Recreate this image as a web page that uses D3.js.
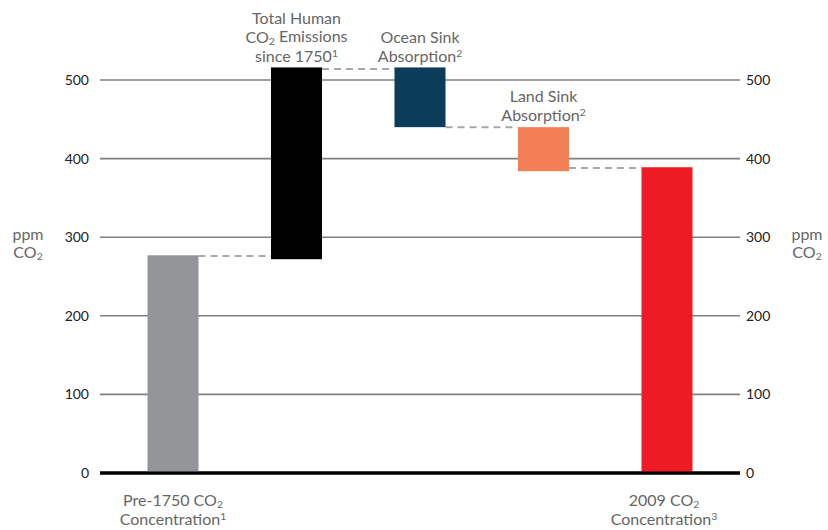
<!DOCTYPE html>
<html>
<head>
<meta charset="utf-8">
<script src="https://cdn.jsdelivr.net/npm/d3@7"></script>
<style>
  body { margin: 0; background: #fff; }
  text { font-family: Lato, "Open Sans", sans-serif; }
</style>
</head>
<body>
<div id="chart"></div>
<script>
// waterfall of CO2 (ppm)
var categories = ["pre", "emissions", "ocean", "land", "y2009"];
var barLow = [0, 272, 440, 384, 0];
var barHigh = [277, 516, 516, 440, 389];
var barColors = ["#939598", "#000000", "#0b3d5b", "#f37f57", "#ed1c24"];
var connectorLevels = [276, 514, 440, 388];
var yTicks = [0, 100, 200, 300, 400, 500];

var width = 828;
var height = 530;

var svg = d3.select('#chart')
    .append('svg')
    .attr('width', width)
    .attr('height', height);

var yscale = d3.scaleLinear()
    .domain([0, 500])
    .range([473, 80]);

var xscale = d3.scalePoint()
    .domain(categories)
    .range([173, 667]);

var barWidth = 51;

// grid lines
svg.selectAll('.grid')
    .data(yTicks)
    .enter()
    .append('line')
    .attr('x1', 100)
    .attr('x2', 740)
    .attr('y1', d => yscale(d))
    .attr('y2', d => yscale(d))
    .attr('stroke', d => d === 0 ? '#000' : '#808080')
    .attr('stroke-width', d => d === 0 ? 3 : 1.6);

// tick labels left + right
svg.selectAll('.tickL')
    .data(yTicks)
    .enter()
    .append('text')
    .attr('x', 89)
    .attr('y', d => yscale(d))
    .attr('dy', '0.35em')
    .attr('text-anchor', 'end')
    .style('font-size', '14px')
    .attr('fill', '#222')
    .text(d => d);

svg.selectAll('.tickR')
    .data(yTicks)
    .enter()
    .append('text')
    .attr('x', 746)
    .attr('y', d => yscale(d))
    .attr('dy', '0.35em')
    .style('font-size', '14px')
    .attr('fill', '#222')
    .text(d => d);

// connectors
svg.selectAll('.conn')
    .data(connectorLevels)
    .enter()
    .append('line')
    .attr('x1', (d, i) => xscale(categories[i]) + barWidth / 2)
    .attr('x2', (d, i) => xscale(categories[i + 1]) - barWidth / 2)
    .attr('y1', d => yscale(d))
    .attr('y2', d => yscale(d))
    .attr('stroke', '#a7a7a7')
    .attr('stroke-width', 2)
    .attr('stroke-dasharray', '7,5');

// bars
svg.selectAll('rect')
    .data(categories)
    .enter()
    .append('rect')
    .attr('x', d => xscale(d) - barWidth / 2)
    .attr('width', barWidth)
    .attr('y', (d, i) => yscale(barHigh[i]))
    .attr('height', (d, i) => yscale(barLow[i]) - yscale(barHigh[i]))
    .attr('fill', (d, i) => barColors[i]);

// redraw zero line on top of bars
svg.append('line')
    .attr('x1', 100).attr('x2', 740)
    .attr('y1', yscale(0)).attr('y2', yscale(0))
    .attr('stroke', '#000').attr('stroke-width', 3);

// label helper: each line is its own text, parts are [text, kind]
function label(x, y, lines, size, lh) {
    lines.forEach(function (parts, li) {
        var t = svg.append('text')
            .attr('text-anchor', 'middle')
            .attr('x', x)
            .attr('y', y + li * lh)
            .style('font-size', size + 'px')
            .attr('fill', '#666');
        parts.forEach(function (p) {
            var ts = t.append('tspan').text(p[0]);
            if (p[1] === 'sub') ts.style('font-size', (size * 0.65) + 'px').attr('dy', '0.2em');
            if (p[1] === 'sup') ts.style('font-size', (size * 0.65) + 'px').attr('dy', '-0.45em');
            if (p[1] === 'after') ts.attr('dy', '-0.2em');
        });
    });
}

label(xscale('emissions'), 24, [
    [["Total Human"]],
    [["CO"], ["2", "sub"], [" Emissions", "after"]],
    [["since 1750"], ["1", "sup"]]
], 16, 19);

label(xscale('ocean'), 43, [
    [["Ocean Sink"]],
    [["Absorption"], ["2", "sup"]]
], 16, 19);

label(xscale('land'), 102, [
    [["Land Sink"]],
    [["Absorption"], ["2", "sup"]]
], 16, 19);

label(xscale('pre'), 506, [
    [["Pre-1750 CO"], ["2", "sub"]],
    [["Concentration"], ["1", "sup"]]
], 16, 19);

label(xscale('y2009') - 3, 506, [
    [["2009 CO"], ["2", "sub"]],
    [["Concentration"], ["3", "sup"]]
], 16, 19);

// axis titles
label(28, 240, [
    [["ppm"]],
    [["CO"], ["2", "sub"]]
], 16, 18);

label(807, 240, [
    [["ppm"]],
    [["CO"], ["2", "sub"]]
], 16, 18);
</script>
</body>
</html>
